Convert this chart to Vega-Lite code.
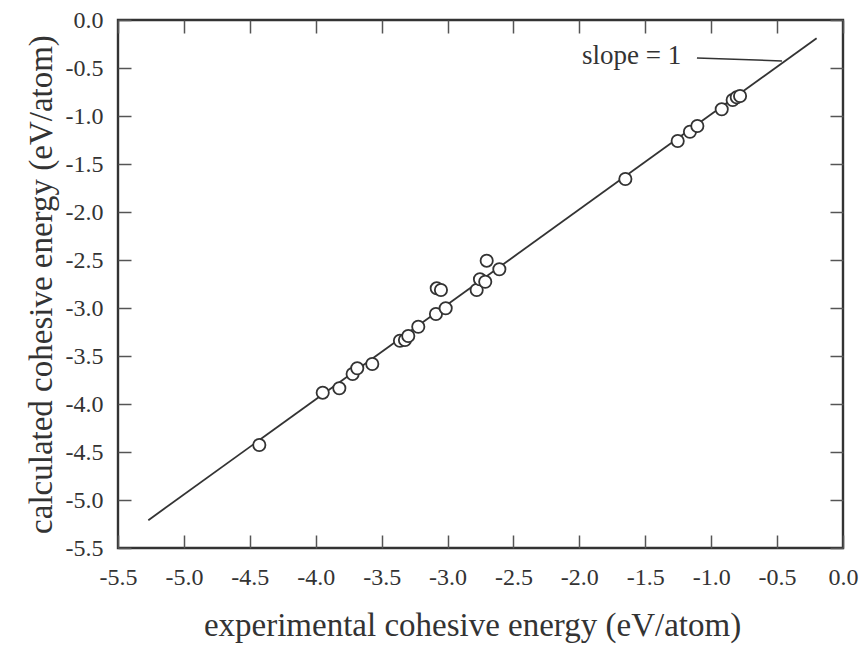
{
  "$schema": "https://vega.github.io/schema/vega-lite/v6.json",
  "width": 725,
  "height": 528,
  "autosize": "none",
  "padding": {"left": 118, "top": 20, "right": 19, "bottom": 97},
  "background": "white",
  "config": {
    "view": {"stroke": "#333333", "strokeWidth": 2.4},
    "font": "Liberation Serif",
    "axis": {
      "labelFont": "Liberation Serif",
      "labelFontSize": 24,
      "labelColor": "#333333",
      "tickColor": "#555555",
      "tickWidth": 1.5,
      "tickSize": 13,
      "domain": false,
      "grid": false,
      "labelFlush": false,
      "labelOverlap": false,
      "labelBound": false,
      "titleFont": "Liberation Serif",
      "titleFontSize": 33,
      "titleFontWeight": "normal",
      "titleColor": "#333333"
    }
  },
  "datasets": {
    "points": [
      {"exp": -4.428, "calc": -4.427},
      {"exp": -3.947, "calc": -3.882},
      {"exp": -3.821, "calc": -3.836},
      {"exp": -3.720, "calc": -3.688},
      {"exp": -3.685, "calc": -3.628},
      {"exp": -3.571, "calc": -3.583},
      {"exp": -3.361, "calc": -3.341},
      {"exp": -3.323, "calc": -3.333},
      {"exp": -3.298, "calc": -3.292},
      {"exp": -3.222, "calc": -3.195},
      {"exp": -3.088, "calc": -3.063},
      {"exp": -3.014, "calc": -3.003},
      {"exp": -3.082, "calc": -2.795},
      {"exp": -3.050, "calc": -2.813},
      {"exp": -2.779, "calc": -2.813},
      {"exp": -2.754, "calc": -2.701},
      {"exp": -2.714, "calc": -2.726},
      {"exp": -2.703, "calc": -2.507},
      {"exp": -2.607, "calc": -2.597},
      {"exp": -1.651, "calc": -1.656},
      {"exp": -1.254, "calc": -1.260},
      {"exp": -1.161, "calc": -1.164},
      {"exp": -1.105, "calc": -1.104},
      {"exp": -0.920, "calc": -0.930},
      {"exp": -0.837, "calc": -0.833},
      {"exp": -0.806, "calc": -0.805},
      {"exp": -0.781, "calc": -0.792}
    ],
    "fit": [
      {"exp": -5.27, "calc": -5.21},
      {"exp": -0.2, "calc": -0.19}
    ],
    "leader": [
      {"exp": -1.108, "calc": -0.396, "exp2": -0.463, "calc2": -0.427}
    ],
    "note": [
      {"exp": -1.98, "calc": -0.458, "label": "slope = 1"}
    ]
  },
  "resolve": {"axis": {"x": "independent", "y": "independent"}},
  "layer": [
    {
      "data": {"name": "fit"},
      "mark": {"type": "line", "color": "#333333", "strokeWidth": 1.8},
      "encoding": {
        "x": {
          "field": "exp", "type": "quantitative",
          "scale": {"domain": [-5.5, 0], "nice": false, "zero": false},
          "axis": {
            "values": [-5.5, -5, -4.5, -4, -3.5, -3, -2.5, -2, -1.5, -1, -0.5, 0],
            "labelExpr": "replace(format(datum.value, '.1f'), '\u2212', '-')",
            "ticks": false,
            "labelPadding": 17,
            "title": "experimental cohesive energy (eV/atom)",
            "titleX": 354,
            "titleY": 87,
            "titleAlign": "center",
            "titleBaseline": "alphabetic"
          }
        },
        "y": {
          "field": "calc", "type": "quantitative",
          "scale": {"domain": [-5.5, 0], "nice": false, "zero": false},
          "axis": {
            "values": [-5.5, -5, -4.5, -4, -3.5, -3, -2.5, -2, -1.5, -1, -0.5, 0],
            "labelExpr": "replace(format(datum.value, '.1f'), '\u2212', '-')",
            "ticks": false,
            "labelPadding": 15,
            "title": "calculated cohesive energy (eV/atom)",
            "titleX": -67,
            "titleY": 264,
            "titleAngle": -90,
            "titleAlign": "center",
            "titleBaseline": "alphabetic"
          }
        }
      }
    },
    {
      "data": {"name": "points"},
      "mark": {"type": "point", "shape": "circle", "filled": true, "fill": "white", "stroke": "#333333", "strokeWidth": 1.8, "size": 150, "opacity": 1},
      "encoding": {
        "x": {
          "field": "exp", "type": "quantitative",
          "axis": {
            "orient": "top",
            "offset": -528,
            "values": [-5.5, -5, -4.5, -4, -3.5, -3, -2.5, -2, -1.5, -1, -0.5, 0],
            "labels": false,
            "title": null
          }
        },
        "y": {
          "field": "calc", "type": "quantitative",
          "axis": {
            "orient": "right",
            "offset": -725,
            "values": [-5.5, -5, -4.5, -4, -3.5, -3, -2.5, -2, -1.5, -1, -0.5, 0],
            "labels": false,
            "title": null
          }
        }
      }
    },
    {
      "data": {"name": "leader"},
      "mark": {"type": "rule", "color": "#333333", "strokeWidth": 1.5},
      "encoding": {
        "x": {"field": "exp", "type": "quantitative", "axis": null},
        "y": {"field": "calc", "type": "quantitative", "axis": null},
        "x2": {"field": "exp2"},
        "y2": {"field": "calc2"}
      }
    },
    {
      "data": {"name": "note"},
      "mark": {"type": "text", "align": "left", "baseline": "alphabetic", "fontSize": 27, "font": "Liberation Serif", "color": "#333333"},
      "encoding": {
        "x": {"field": "exp", "type": "quantitative", "axis": null},
        "y": {"field": "calc", "type": "quantitative", "axis": null},
        "text": {"field": "label"}
      }
    },
    {
      "data": {"name": "points"},
      "mark": {"type": "point", "opacity": 0},
      "encoding": {
        "x": {
          "field": "exp", "type": "quantitative",
          "axis": {
            "orient": "bottom",
            "offset": -528,
            "values": [-5.5, -5, -4.5, -4, -3.5, -3, -2.5, -2, -1.5, -1, -0.5, 0],
            "labels": false,
            "title": null
          }
        },
        "y": {
          "field": "calc", "type": "quantitative",
          "axis": {
            "orient": "left",
            "offset": -725,
            "values": [-5.5, -5, -4.5, -4, -3.5, -3, -2.5, -2, -1.5, -1, -0.5, 0],
            "labels": false,
            "title": null
          }
        }
      }
    }
  ]
}
